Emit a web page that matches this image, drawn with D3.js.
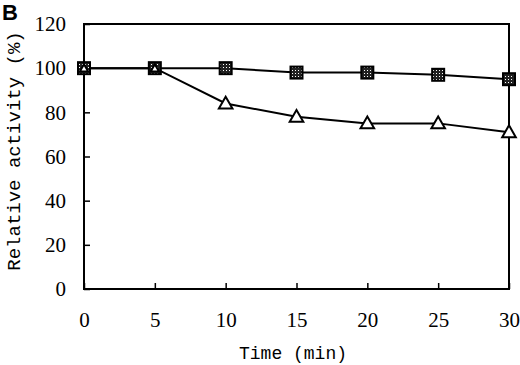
<!DOCTYPE html>
<html>
<head>
<meta charset="utf-8">
<script src="https://cdn.jsdelivr.net/npm/d3@7"></script>
<style>
  body { margin: 0; background: #fff; }
  svg { display: block; }
</style>
</head>
<body>
<svg id="chart" width="520" height="365"></svg>
<script>
// data
var times = [0, 5, 10, 15, 20, 25, 30];
var squareSeries = [100, 100, 100, 98, 98, 97, 95];
var triangleSeries = [100, 100, 84, 78, 75, 75, 71];
var xTicks = [0, 5, 10, 15, 20, 25, 30];
var yTicks = [0, 20, 40, 60, 80, 100, 120];

(function () {
var svg = d3.select('#chart');
var plotL = 84, plotR = 509, plotT = 24, plotB = 289;

var x = d3.scaleLinear().domain([0, 30]).range([plotL, plotR]);
var y = d3.scaleLinear().domain([0, 120]).range([plotB, plotT]);

var serif = '"Liberation Serif", "DejaVu Serif", serif';
var mono = '"Liberation Mono", "DejaVu Sans Mono", monospace';

// frame
svg.append('rect')
   .attr('x', plotL).attr('y', plotT)
   .attr('width', plotR - plotL).attr('height', plotB - plotT)
   .attr('fill', 'none').attr('stroke', '#000').attr('stroke-width', 2);

// y axis, ticks pointing inward
var yAxis = d3.axisLeft(y).tickValues(yTicks).tickSize(-6).tickPadding(18);
var gy = svg.append('g').attr('transform', 'translate(' + plotL + ',0)').call(yAxis);
gy.select('.domain').remove();
gy.selectAll('line').attr('stroke', '#000').attr('stroke-width', 1.5);
gy.selectAll('text').attr('font-family', serif).attr('font-size', 21).attr('fill', '#000');

// x axis, ticks pointing inward
var xAxis = d3.axisBottom(x).tickValues(xTicks).tickSize(-6).tickPadding(23);
var gx = svg.append('g').attr('transform', 'translate(0,' + plotB + ')').call(xAxis);
gx.select('.domain').remove();
gx.selectAll('line').attr('stroke', '#000').attr('stroke-width', 1.5);
gx.selectAll('text').attr('font-family', serif).attr('font-size', 21).attr('fill', '#000');

// axis titles
svg.append('text')
   .attr('x', 293).attr('y', 359)
   .attr('text-anchor', 'middle')
   .attr('font-family', mono).attr('font-size', 18)
   .text('Time (min)');

svg.append('text')
   .attr('transform', 'translate(20,151) rotate(-90)')
   .attr('text-anchor', 'middle')
   .attr('font-family', mono).attr('font-size', 19)
   .text('Relative activity (%)');

// panel letter
svg.append('text')
   .attr('x', 2).attr('y', 20)
   .attr('font-family', '"Liberation Sans", Arial, sans-serif')
   .attr('font-weight', 'bold').attr('font-size', 22)
   .text('B');

// lines
var line = d3.line().x(function (d) { return x(d[0]); }).y(function (d) { return y(d[1]); });
var sqData = d3.zip(times, squareSeries);
var triData = d3.zip(times, triangleSeries);

svg.append('path').datum(triData).attr('d', line)
   .attr('fill', 'none').attr('stroke', '#000').attr('stroke-width', 2);
svg.append('path').datum(sqData).attr('d', line)
   .attr('fill', 'none').attr('stroke', '#000').attr('stroke-width', 2);

// square markers with dotted fill
var defs = svg.append('defs');
var pat = defs.append('pattern').attr('id', 'dots')
   .attr('width', 3).attr('height', 3).attr('patternUnits', 'userSpaceOnUse');
pat.append('rect').attr('width', 3).attr('height', 3).attr('fill', '#222');
pat.append('rect').attr('x', 1).attr('y', 1).attr('width', 1).attr('height', 1).attr('fill', '#fff');

svg.selectAll('.sq').data(sqData).enter().append('rect')
   .attr('class', 'sq')
   .attr('x', function (d) { return x(d[0]) - 6; })
   .attr('y', function (d) { return y(d[1]) - 6; })
   .attr('width', 12).attr('height', 12)
   .attr('fill', 'url(#dots)').attr('stroke', '#000').attr('stroke-width', 2);

// triangle markers
svg.selectAll('.tri').data(triData).enter().append('path')
   .attr('class', 'tri')
   .attr('d', function (d, i) { return d3.symbol().type(d3.symbolTriangle).size(i < 2 ? 30 : 80)(); })
   .attr('transform', function (d) { return 'translate(' + x(d[0]) + ',' + (y(d[1]) + 1) + ')'; })
   .attr('fill', '#fff').attr('stroke', '#000').attr('stroke-width', 2);
})();
</script>
</body>
</html>
